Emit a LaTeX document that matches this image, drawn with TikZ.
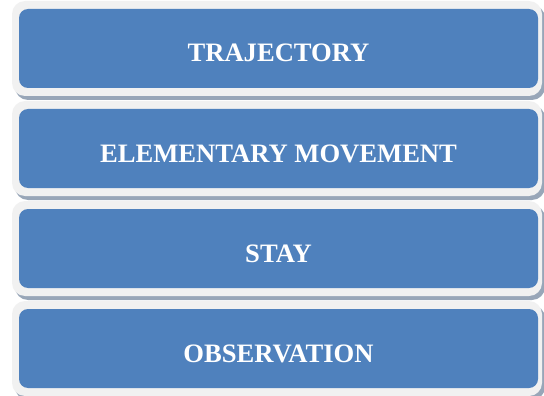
\documentclass[tikz,border=0pt]{standalone}
\usepackage{fontspec}
\setmainfont{Liberation Serif}
\usetikzlibrary{shadows}
\definecolor{stageColor}{HTML}{4F81BD}
\definecolor{frameColor}{HTML}{F1F1F1}
\definecolor{shadowColor}{HTML}{98A6B8}

\begin{document}
\begin{tikzpicture}[x=1pt,y=-1pt,
      framebox/.style={rectangle,rounded corners=13pt,fill=frameColor,
        minimum width=530pt,minimum height=95pt,inner sep=0pt,
        drop shadow={shadow xshift=3pt,shadow yshift=-4pt,fill=shadowColor,opacity=1}},
      stagebox/.style={rectangle,rounded corners=9pt,fill=stageColor,text=white,
        minimum width=519pt,minimum height=79pt,inner sep=0pt,
        text height=27pt,text depth=0pt,font=\fontsize{26.6}{30}\selectfont\bfseries}
    ]
    \useasboundingbox (0,0) rectangle (544,396);
    \foreach \i/\name/\txt in {0/traj/TRAJECTORY,1/move/ELEMENTARY MOVEMENT,2/stay/STAY,3/obs/OBSERVATION}{
      \node[framebox] (\name-f) at (277,48.5+100*\i) {};
      \node[stagebox] (\name) at (278.5,48.5+100*\i) {\txt};
    }
  \end{tikzpicture}
\end{document}
